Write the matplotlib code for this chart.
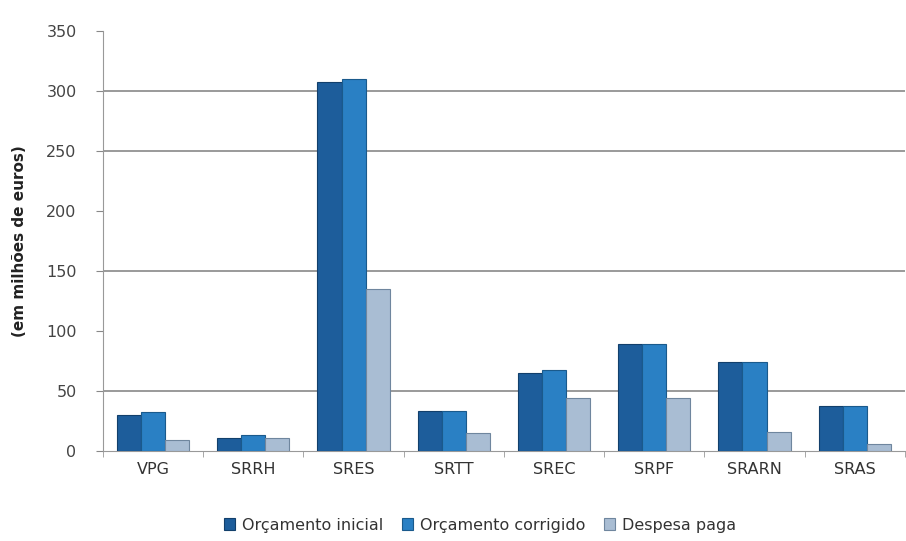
import numpy as np
import matplotlib
matplotlib.use("Agg")
import matplotlib.pyplot as plt

# data (milhões de euros)
categories = ["VPG", "SRRH", "SRES", "SRTT", "SREC", "SRPF", "SRARN", "SRAS"]
orc_inicial = [30, 10.5, 307, 33, 65, 88.5, 73.5, 37]
orc_corrigido = [32, 13, 310, 33, 67, 88.5, 73.5, 37]
despesa_paga = [8.5, 10.5, 135, 14.5, 43.5, 43.5, 15.5, 5.5]
series_names = ["Orçamento inicial", "Orçamento corrigido", "Despesa paga"]
y_ticks = [0, 50, 100, 150, 200, 250, 300, 350]
grid_levels = [50, 150, 250, 300]  # only these show a line in the picture

colors = ["#1d5d9b", "#2a80c4", "#a9bdd3"]
edges = ["#123f6b", "#1a5a8c", "#6f869e"]

fig = plt.figure(figsize=(9.06, 5.41), dpi=100)
ax = fig.add_axes([0.1137, 0.167, 0.885, 0.776])

x = np.arange(len(categories))
w = 0.24
for k, vals in enumerate([orc_inicial, orc_corrigido, despesa_paga]):
    ax.bar(x + (k - 1) * w, vals, width=w, color=colors[k], edgecolor=edges[k],
           linewidth=0.8, label=series_names[k], zorder=3)

# horizontal grid lines
for g in grid_levels:
    ax.axhline(g, color="#7f7f7f", lw=1.1, zorder=1)

ax.set_xlim(-0.5, len(categories) - 0.5)
ax.set_ylim(0, 350)
ax.set_yticks(y_ticks)
ax.set_xticks(x)
ax.set_xticklabels(categories)
ax.set_xticks(np.arange(len(categories) + 1) - 0.5, minor=True)

ax.tick_params(axis="x", which="major", length=0, pad=8, labelsize=11.5, labelcolor="#333333")
ax.tick_params(axis="x", which="minor", length=4, color="#999999", direction="out")
ax.tick_params(axis="y", length=5, color="#888888", labelsize=11.5, labelcolor="#444444", pad=14)

for s in ["top", "right"]:
    ax.spines[s].set_visible(False)
ax.spines["left"].set_color("#999999")
ax.spines["bottom"].set_color("#999999")

ax.set_ylabel("(em milhões de euros)", fontsize=11, fontweight="bold", color="#222222", labelpad=14)

ax.legend(loc="upper center", bbox_to_anchor=(0.47, -0.125), ncol=3, frameon=False,
          fontsize=11.5, handlelength=0.7, handleheight=0.7, handletextpad=0.4,
          columnspacing=1.2, labelcolor="#333333")

fig.savefig("out.png", dpi=100)
